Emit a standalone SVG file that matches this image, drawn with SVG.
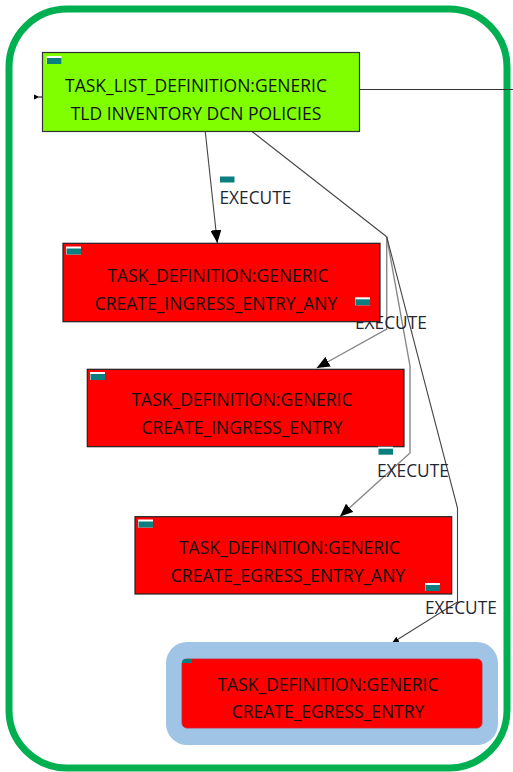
<svg xmlns="http://www.w3.org/2000/svg" width="513" height="772" viewBox="0 0 513 772">
<style>
.frame{fill:#fff;stroke:#00b050;stroke-width:7}
.green{fill:#80ff00;stroke:#333;stroke-width:1.2}
.red{fill:#ff0000;stroke:#222;stroke-width:1.2}
.t{font-family:"Open Sans","Liberation Sans",sans-serif;font-size:17.5px;fill:#111;text-anchor:middle}
.lbl{font-family:"Open Sans","Liberation Sans",sans-serif;font-size:17.3px;fill:#1e2633}
.e{fill:none;stroke:#444;stroke-width:1.1}
.g{fill:none;stroke:#888;stroke-width:1.4}
</style>
<defs>
<marker id="arr" markerUnits="userSpaceOnUse" markerWidth="13" markerHeight="11" refX="13" refY="5.5" orient="auto">
<path d="M0,0 L13,5.5 L0,11 z" fill="#000"/>
</marker>
<marker id="arrs" markerUnits="userSpaceOnUse" markerWidth="7" markerHeight="6" refX="7" refY="3" orient="auto">
<path d="M0,0 L7,3 L0,6 z" fill="#000"/>
</marker>
<g id="ico"><rect width="15" height="8" fill="#fff"/><rect x="0.5" y="2" width="14.5" height="6" fill="#0b7f7f"/></g>
</defs>
<rect x="0" y="0" width="513" height="772" fill="#fff"/>
<rect class="frame" x="9" y="9" width="498" height="759" rx="58" ry="58"/>

<g id="connectors">
<line x1="360" y1="89.5" x2="513" y2="89.5" stroke="#333" stroke-width="1.2"/>
<polygon points="34,94.5 39.5,97 34,99.5" fill="#000"/>
<line x1="39" y1="97" x2="42.5" y2="97" stroke="#000" stroke-width="1"/>
<polyline class="e" points="205.3,131.7 217.3,243" marker-end="url(#arr)"/>
<polyline class="e" points="252.3,131.7 386.7,236.7"/>
<polyline class="g" points="386.7,236.7 386.7,329 316.7,368" marker-end="url(#arr)"/>
<polyline class="g" points="386.7,236.7 410,366 410,453 340,516.5" marker-end="url(#arr)"/>
<polyline class="e" points="386.7,236.7 457.5,508 457.5,602 392,643" marker-end="url(#arrs)"/>
<use href="#ico" x="219.5" y="174.5"/>
<text class="lbl" x="219.5" y="204">EXECUTE</text>
<text class="lbl" x="355" y="328.5">EXECUTE</text>
<text class="lbl" x="377" y="477">EXECUTE</text>
<text class="lbl" x="425" y="614">EXECUTE</text>
</g>

<g id="tld">
<rect class="green" x="42.5" y="52.5" width="317" height="79"/>
<use href="#ico" x="46.5" y="56"/>
<text class="t" x="196" y="91.5">TASK_LIST_DEFINITION:GENERIC</text>
<text class="t" x="196" y="120">TLD INVENTORY DCN POLICIES</text>
</g>

<g id="td1">
<rect class="red" x="63" y="243.3" width="317" height="78.4"/>
<use href="#ico" x="66" y="246.5"/>
<text class="t" x="218" y="281.5">TASK_DEFINITION:GENERIC</text>
<text class="t" x="216" y="310">CREATE_INGRESS_ENTRY_ANY</text>
<use href="#ico" x="355" y="297.3"/>
</g>

<g id="td2">
<rect class="red" x="87.3" y="369.3" width="316.7" height="77.4"/>
<use href="#ico" x="90" y="372"/>
<text class="t" x="242" y="405.5">TASK_DEFINITION:GENERIC</text>
<text class="t" x="242" y="434">CREATE_INGRESS_ENTRY</text>
<use href="#ico" x="378" y="446.7"/>
</g>

<g id="td3">
<rect class="red" x="135" y="516.7" width="316.7" height="77.3"/>
<use href="#ico" x="138" y="519.5"/>
<text class="t" x="289.5" y="554">TASK_DEFINITION:GENERIC</text>
<text class="t" x="288" y="582.3">CREATE_EGRESS_ENTRY_ANY</text>
<use href="#ico" x="425" y="583"/>
</g>

<g id="td4">
<rect x="166" y="642" width="332" height="103" rx="21" ry="21" fill="#a0c4e6"/>
<rect x="182" y="659" width="300" height="69" rx="5" ry="5" fill="#ff0000" stroke="#c23" stroke-width="0.8"/>
<path d="M184,659 H192 V663 H182 V661 Z" fill="#0b7f7f"/>
<text class="t" x="328" y="690.7">TASK_DEFINITION:GENERIC</text>
<text class="t" x="328" y="718">CREATE_EGRESS_ENTRY</text>
</g>
</svg>
